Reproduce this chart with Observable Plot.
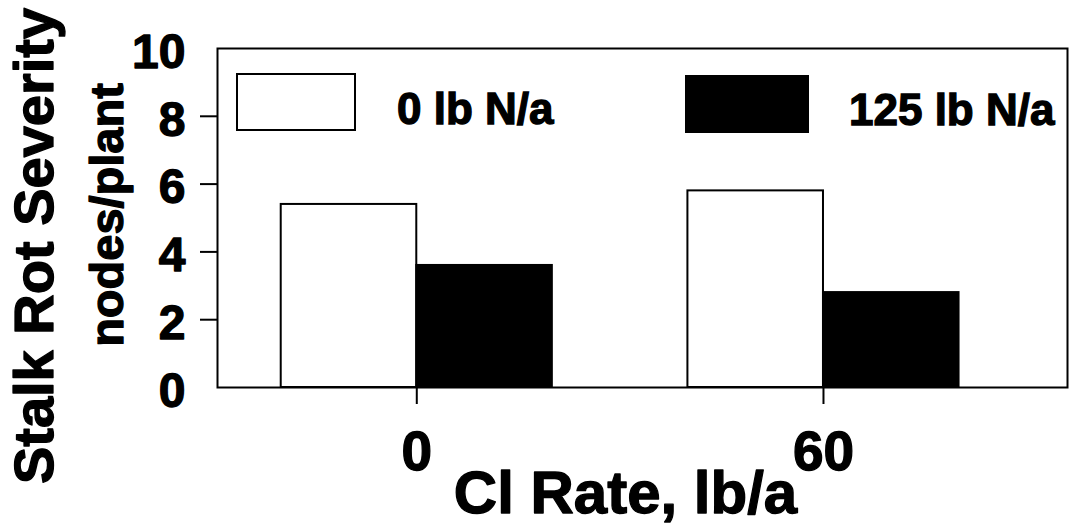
<!DOCTYPE html>
<html>
<head>
<meta charset="utf-8">
<script src="https://cdn.jsdelivr.net/npm/d3@7"></script>
<script src="https://cdn.jsdelivr.net/npm/@observablehq/plot@0.6"></script>
<style>
  html, body { margin: 0; padding: 0; background: white; }
  #wrap { position: relative; width: 1069px; height: 527px; font-family: "Liberation Sans", Arial, Helvetica, sans-serif; font-weight: bold; }
  #wrap svg text { stroke: black; stroke-width: 1.3px; stroke-linejoin: round; }
  .lg-box { position: absolute; box-sizing: border-box; border: 2px solid black; }
  .lg-text { position: absolute; font-size: 44px; line-height: 1; white-space: nowrap; color: black; -webkit-text-stroke: 1.3px black; }
</style>
</head>
<body>
<div id="wrap"></div>
<script>
// ---- data ----
const rates = ["0", "60"];                 // Cl rate, lb/a
const nLevels = ["0 lb N/a", "125 lb N/a"]; // series
const severity0N = [5.4, 5.8];
const severity125N = [3.6, 2.8];
const yTicks = [0, 2, 4, 6, 8, 10];
const yTickMarks = [2, 4, 6, 8];

const seriesValues = [severity0N, severity125N];
const data = rates.flatMap((r, i) =>
  nLevels.map((n, s) => ({i, s, n, v: seriesValues[s][i]})));

const half = 1 / 3; // bar width as fraction of group step
const font = '"Liberation Sans", Arial, Helvetica, sans-serif';

const chart = Plot.plot({
  width: 1069,
  height: 527,
  marginLeft: 217,
  marginRight: 2,
  marginTop: 48,
  marginBottom: 140,
  style: {fontFamily: font, fontWeight: "bold", color: "black", background: "white"},
  x: {type: "linear", domain: [-0.49, 1.6]},
  y: {domain: [0, 10]},
  color: {domain: nLevels, range: ["white", "black"]},
  marks: [
    Plot.rectY(data, {
      x1: d => d.i + (d.s - 1) * half,
      x2: d => d.i + d.s * half,
      y: "v",
      fill: "n",
      stroke: "black",
      strokeWidth: 2
    }),
    Plot.frame({stroke: "black", strokeWidth: 2}),
    Plot.axisY(yTickMarks, {tickSize: 17, tickFormat: () => "", strokeWidth: 2, label: null}),
    Plot.axisY(yTicks, {tickSize: 0, tickPadding: 32, fontSize: 48, dy: 4, label: null}),
    Plot.axisX([0, 1], {tickSize: 17, tickPadding: 26, tickFormat: i => rates[i], fontSize: 55, strokeWidth: 2, label: null}),
    Plot.text(["Stalk Rot Severity"], {frameAnchor: "left", rotate: -90, textAnchor: "middle", lineAnchor: "bottom", dx: -165, dy: 28, fontSize: 56}),
    Plot.text(["nodes/plant"], {frameAnchor: "left", rotate: -90, textAnchor: "middle", lineAnchor: "bottom", dx: -95, dy: -3, fontSize: 47}),
    Plot.text(["Cl Rate, lb/a"], {frameAnchor: "bottom", textAnchor: "middle", lineAnchor: "bottom", dx: -17, dy: 125, fontSize: 60})
  ]
});

const wrap = document.getElementById("wrap");
wrap.appendChild(chart);

// legend overlay (inside the frame, as in the reference)
const legend = [
  {label: nLevels[0], fill: "white", box: [236, 73, 120, 58], tx: 397, ty: 87},
  {label: nLevels[1], fill: "black", box: [685, 75, 124, 58], tx: 849, ty: 88}
];
for (const l of legend) {
  const b = document.createElement("div");
  b.className = "lg-box";
  Object.assign(b.style, {left: l.box[0] + "px", top: l.box[1] + "px", width: l.box[2] + "px", height: l.box[3] + "px", background: l.fill});
  wrap.appendChild(b);
  const t = document.createElement("div");
  t.className = "lg-text";
  t.textContent = l.label;
  Object.assign(t.style, {left: l.tx + "px", top: l.ty + "px"});
  wrap.appendChild(t);
}
</script>
</body>
</html>
